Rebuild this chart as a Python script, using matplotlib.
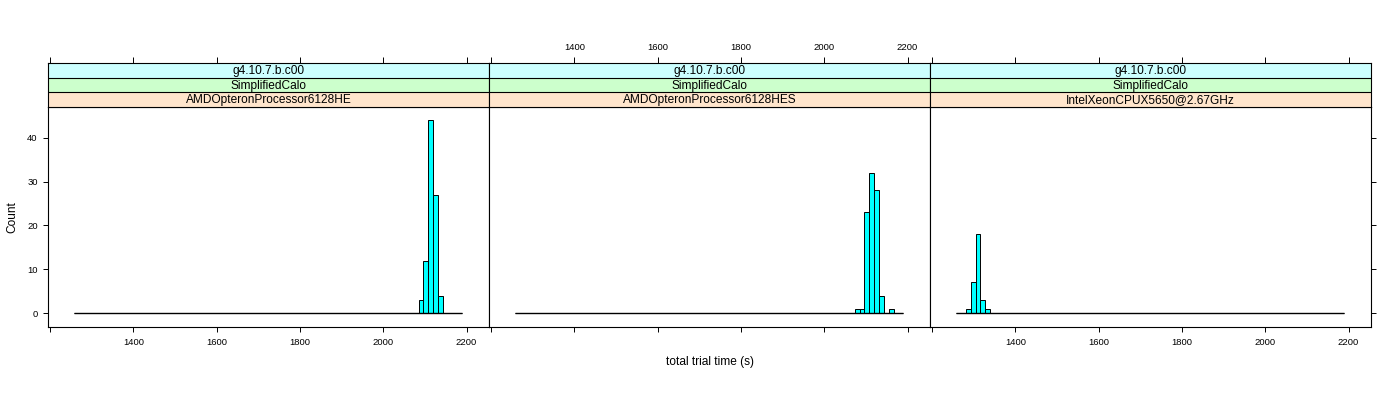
import numpy as np
import matplotlib
matplotlib.use('Agg')
import matplotlib.pyplot as plt

plt.rcParams['font.family'] = ['Liberation Sans', 'DejaVu Sans']

# common histogram breaks (lattice uses the same breaks in every panel)
bin_start = 1258.0
bin_width = 11.645
n_bins = 80

strip_top = ['g4.10.7.b.c00', 'g4.10.7.b.c00', 'g4.10.7.b.c00']
strip_mid = ['SimplifiedCalo', 'SimplifiedCalo', 'SimplifiedCalo']
strip_bot = ['AMDOpteronProcessor6128HE', 'AMDOpteronProcessor6128HES',
             'IntelXeonCPUX5650@2.67GHz']

# first non-empty bin and counts for each panel
first_bin = [71, 70, 2]
counts = [
    [3, 12, 44, 27, 4],
    [1, 1, 23, 32, 28, 4, 0, 1],
    [1, 7, 18, 3, 1],
]

x_ticks = [1200, 1400, 1600, 1800, 2000, 2200]
x_labels = ['', '1400', '1600', '1800', '2000', '2200']
y_ticks = [0, 10, 20, 30, 40]

xlim = (1195.8, 2254.5)
ylim = (-3.08, 47.08)

W, H = 1400, 400
fig = plt.figure(figsize=(14, 4), dpi=100)

panel_w = 441.0
panel_left = [48.3, 48.3 + panel_w, 48.3 + 2 * panel_w]
panel_top, panel_bot = 106.7, 326.7
strip_top_px = 63.3

edges = bin_start + bin_width * np.arange(n_bins)
strip_cols = ['#ffe5cc', '#ccffcc', '#ccffff']

for i in range(3):
    full = np.zeros(n_bins)
    full[first_bin[i]:first_bin[i] + len(counts[i])] = counts[i]

    ax = fig.add_axes([panel_left[i] / W, 1 - panel_bot / H,
                       panel_w / W, (panel_bot - panel_top) / H])
    ax.bar(edges, full, width=bin_width, align='edge', color='#00ffff',
           edgecolor='black', linewidth=0.7)
    ax.hlines(0, edges[0], edges[-1] + bin_width, color='black', lw=1.0)
    ax.set_xlim(xlim)
    ax.set_ylim(ylim)
    for s in ax.spines.values():
        s.set_color('black')
        s.set_linewidth(0.8)
    ax.set_xticks(x_ticks)
    ax.tick_params(axis='both', direction='out', length=3.6, width=0.7,
                   labelsize=6.8, pad=4.5)
    if i == 1:
        ax.set_xticklabels([''] * len(x_ticks))
    else:
        ax.set_xticklabels(x_labels)
    ax.set_yticks(y_ticks)
    if i == 0:
        ax.tick_params(axis='y', left=True, labelleft=True, pad=4)
    elif i == 2:
        ax.tick_params(axis='y', left=False, labelleft=False, right=True)
    else:
        ax.tick_params(axis='y', left=False, labelleft=False)

    # strips
    sa = fig.add_axes([panel_left[i] / W, 1 - panel_top / H,
                       panel_w / W, (panel_top - strip_top_px) / H])
    sa.set_xlim(xlim)
    sa.set_ylim(0, 3)
    for k in range(3):
        sa.axhspan(k, k + 1, color=strip_cols[k], lw=0)
    sa.axhline(1, color='black', lw=0.8)
    sa.axhline(2, color='black', lw=0.8)
    for s in sa.spines.values():
        s.set_color('black')
        s.set_linewidth(0.8)
    xm = sum(xlim) / 2
    sa.text(xm, 2.45, strip_top[i], ha='center', va='center', fontsize=8.6)
    sa.text(xm, 1.45, strip_mid[i], ha='center', va='center', fontsize=8.6)
    sa.text(xm, 0.45, strip_bot[i], ha='center', va='center', fontsize=8.6)
    sa.set_yticks([])
    sa.set_xticks(x_ticks)
    sa.tick_params(axis='x', bottom=False, labelbottom=False, top=True,
                   labeltop=(i == 1), direction='out', length=4.5, width=0.7,
                   labelsize=6.8, pad=3.5)
    sa.set_xticklabels(x_labels)

fig.text(709.5 / W, 1 - 362 / H, 'total trial time (s)', ha='center',
         va='center', fontsize=8.6)
fig.text(12 / W, 1 - 216.7 / H, 'Count', ha='center', va='center',
         rotation=90, fontsize=8.6)

fig.savefig('out.png', dpi=100)
